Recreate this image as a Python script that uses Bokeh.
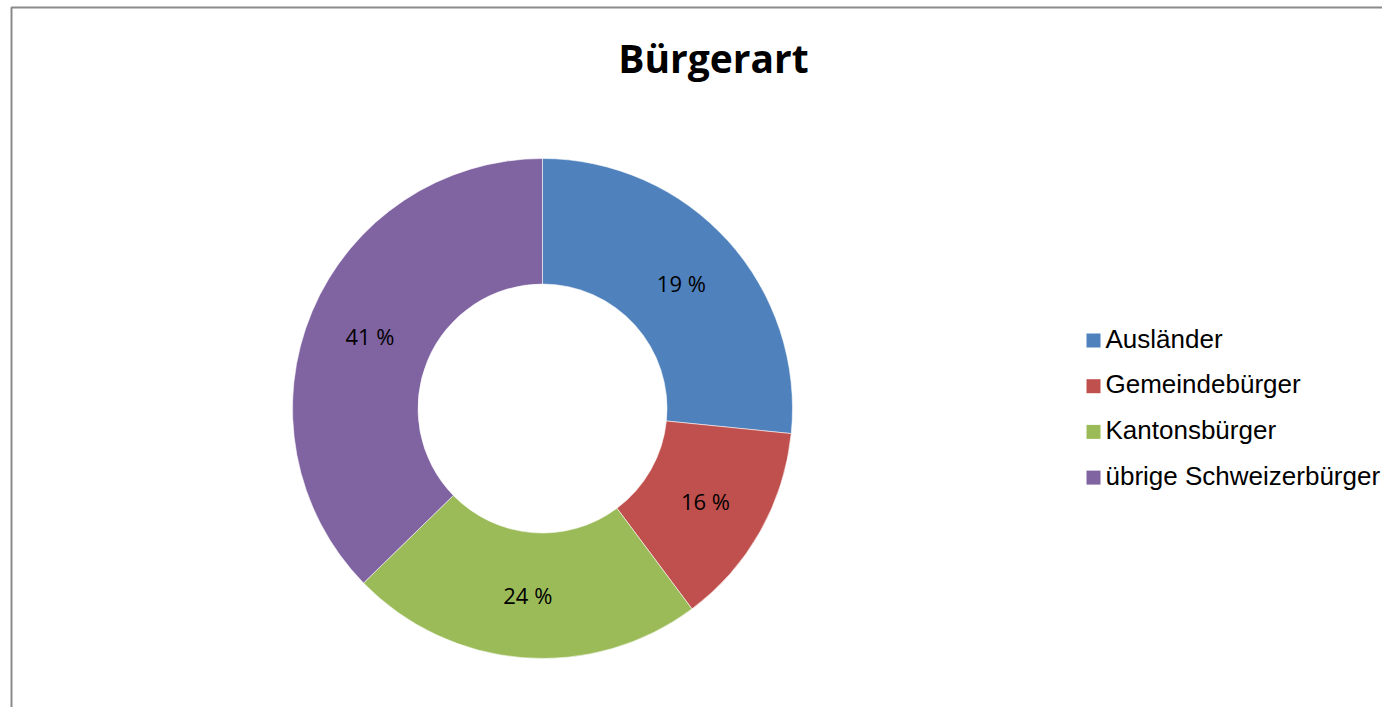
import numpy as np
from bokeh.plotting import figure
from bokeh.models import Range1d, ColumnDataSource, BoxAnnotation
from bokeh.core.properties import value
from bokeh.embed import file_html
from bokeh.resources import INLINE

# ---- data ----
title_text = "Bürgerart"
categories = ["Ausländer", "Gemeindebürger", "Kantonsbürger", "übrige Schweizerbürger"]
shares = [26.6, 13.2, 22.9, 37.3]          # slice sizes as drawn in the picture
label_texts = ["19 %", "16 %", "24 %", "41 %"]  # data labels as printed
colors = ["#4F81BD", "#C0504D", "#9BBB59", "#8064A2"]

# ---- layout (1 data unit = 1 screen pixel; x = image x, y = -image y) ----
W, H = 1382, 707
cx, cy = 542, -408
r_in, r_out = 124.5, 250

p = figure(width=W, height=H, x_range=Range1d(0, W), y_range=Range1d(-H, 0),
           output_backend="svg", toolbar_location=None, min_border=0,
           x_axis_location=None, y_axis_location=None, outline_line_color=None,
           background_fill_color="white", border_fill_color="white")
p.grid.visible = False

frac = np.array(shares) / np.sum(shares)
cum = np.cumsum(frac)
start = np.pi / 2 - 2 * np.pi * (cum - frac)
end = np.pi / 2 - 2 * np.pi * cum
mid = (start + end) / 2
r_mid = (r_in + r_out) / 2

src = ColumnDataSource(dict(start=start, end=end, color=colors, cat=categories,
                            lx=cx + r_mid * np.cos(mid), ly=cy + r_mid * np.sin(mid),
                            lab=label_texts))
p.annular_wedge(x=cx, y=cy, inner_radius=r_in, outer_radius=r_out,
                start_angle="start", end_angle="end", direction="clock",
                fill_color="color", line_color="white", line_width=0.8, line_alpha=0.7,
                source=src)
p.text(x="lx", y="ly", text="lab", source=src, text_align="center", text_baseline="middle",
       text_font=value("Open Sans"), text_font_size="22px", text_color="black")

# title
p.text(x=[713], y=[-57], text=[title_text], text_align="center", text_baseline="middle",
       text_font=value("Open Sans"), text_font_style="bold", text_font_size="39px",
       text_color="black")

# legend
n = len(categories)
sq_y = np.array([340 + i * 45.7 for i in range(n)])
leg = ColumnDataSource(dict(sx=[1093] * n, sy=-sq_y, tx=[1105] * n, ty=-(sq_y - 2),
                            color=colors, cat=categories))
p.rect(x="sx", y="sy", width=14, height=14, fill_color="color", line_color=None, source=leg)
p.text(x="tx", y="ty", text="cat", source=leg, text_align="left", text_baseline="middle",
       text_font=value("Liberation Sans"), text_font_size="26px", text_color="black")

# chart area border (left and top visible)
p.add_layout(BoxAnnotation(left=11, right=5000, top=-7, bottom=-5000, fill_alpha=0,
                           line_color="#8a8a8a", line_alpha=1.0, line_width=2))

open("out.html", "w").write(file_html(p, INLINE))
